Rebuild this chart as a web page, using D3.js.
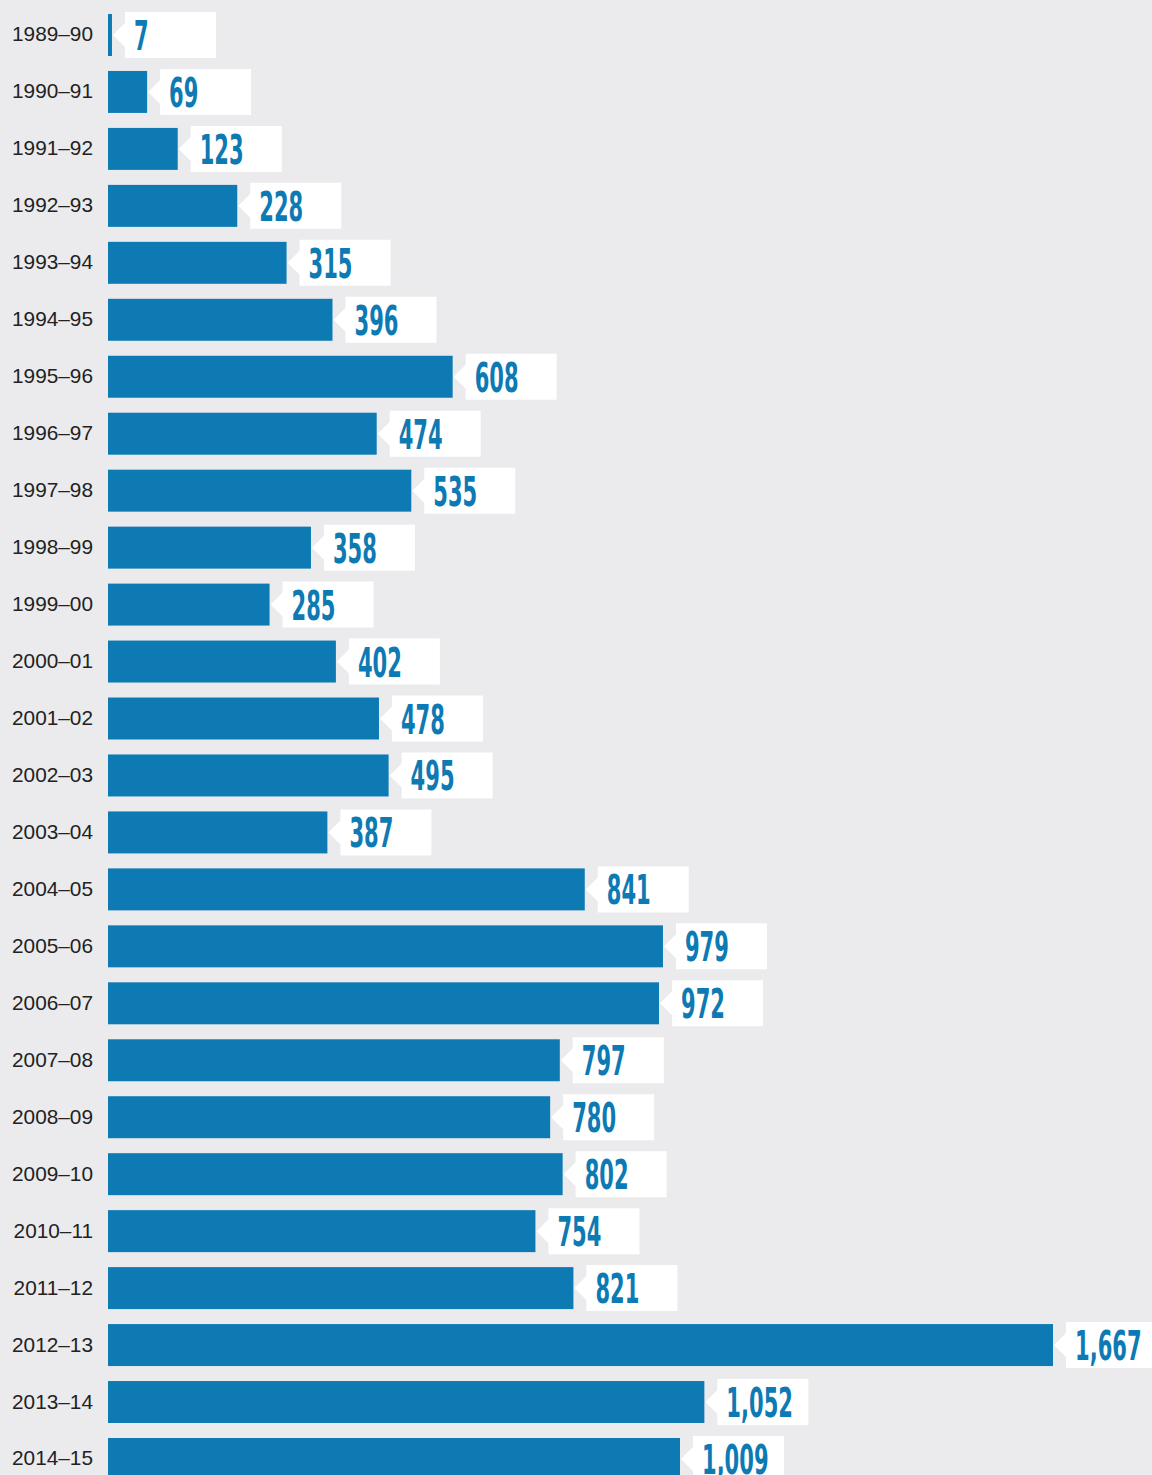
<!DOCTYPE html>
<html>
<head>
<meta charset="utf-8">
<script src="https://cdn.jsdelivr.net/npm/d3@7"></script>
<style>
  html, body { margin: 0; padding: 0; background: #ebebed; }
  svg { display: block; }
</style>
</head>
<body>
<svg id="chart" width="1152" height="1475"></svg>
<script>
const categories = ["1989–90","1990–91","1991–92","1992–93","1993–94","1994–95","1995–96","1996–97","1997–98","1998–99","1999–00","2000–01","2001–02","2002–03","2003–04","2004–05","2005–06","2006–07","2007–08","2008–09","2009–10","2010–11","2011–12","2012–13","2013–14","2014–15"];
const values = [7, 69, 123, 228, 315, 396, 608, 474, 535, 358, 285, 402, 478, 495, 387, 841, 979, 972, 797, 780, 802, 754, 821, 1667, 1052, 1009];

const W = 1152, H = 1475;
const barColor = "#0d7ab3";
const svg = d3.select("#chart");
svg.append("rect").attr("width", W).attr("height", H).attr("fill", "#ebebed");

const x = d3.scaleLinear().domain([0, 1667]).range([108, 1053]);
const step = 56.96;
const y = d3.scaleBand().domain(categories).range([14, 14 + step * (categories.length - 15 / 57)]).paddingInner(15 / 57).paddingOuter(0);
const bw = y.bandwidth();
const fmt = d3.format(",");

const data = categories.map((c, i) => ({ c, v: values[i] }));

const rows = svg.selectAll("g.row").data(data).join("g").attr("class", "row");

rows.append("text")
  .attr("x", 93)
  .attr("y", d => y(d.c) + bw / 2 + 6.5)
  .attr("text-anchor", "end")
  .attr("font-family", "'Liberation Sans', Arimo, Helvetica, Arial, sans-serif")
  .attr("font-size", 20.8)
  .attr("fill", "#222")
  .text(d => d.c);

rows.append("rect")
  .attr("x", x(0))
  .attr("y", d => y(d.c))
  .attr("width", d => x(d.v) - x(0))
  .attr("height", bw)
  .attr("fill", barColor);

const boxW = 91;
rows.append("path")
  .attr("fill", "#ffffff")
  .attr("d", d => {
    const tip = x(d.v) + 1;
    const L = x(d.v) + 13;
    const cy = y(d.c) + bw / 2;
    const t = cy - 23, b = cy + 23;
    return `M${L},${t}L${L + boxW},${t}L${L + boxW},${b}L${L},${b}L${L},${cy + 12}L${tip},${cy}L${L},${cy - 12}Z`;
  });

rows.append("text")
  .attr("transform", d => `translate(${x(d.v) + 22},${y(d.c) + bw / 2 + 15}) scale(0.585,1)`)
  .attr("font-family", "'DejaVu Sans Condensed', 'Liberation Sans Narrow', sans-serif")
  .attr("font-weight", "bold")
  .attr("font-size", 40)
  .attr("fill", barColor)
  .text(d => fmt(d.v));
</script>
</body>
</html>
